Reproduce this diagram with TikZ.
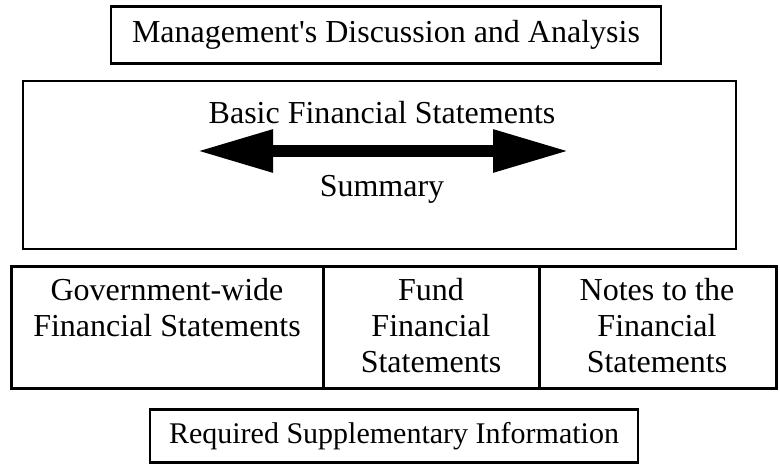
\documentclass[tikz,border=0pt]{standalone}
\usepackage{fontspec}
\setmainfont{Liberation Serif}
\usetikzlibrary{arrows.meta}
\begin{document}
\begin{tikzpicture}[x=0.5pt,y=-0.5pt,
        txt/.style={font=\fontsize{16}{18}\selectfont, inner sep=0pt, align=center},
        frame/.style={draw, line width=1.1pt, inner sep=0pt, txt}]
        \useasboundingbox (0,0) rectangle (780,464);
        % top and bottom boxes
        \node[frame, minimum width=275pt, minimum height=28.5pt] (mda) at (386,35) {Management\textquotesingle s Discussion and Analysis};
        \node[frame, minimum width=244pt, minimum height=26.5pt, font=\fontsize{15}{18}\selectfont] (rsi) at (394,436) {Required Supplementary Information};
        % basic financial statements
        \node[frame, minimum width=356.5pt, minimum height=84pt] (bfs) at (379.5,165) {};
        \node[txt, anchor=base] (basic) at (382,124) {Basic Financial Statements};
        \node[txt, anchor=base] (summ) at (382,197) {Summary};
        \coordinate (lt) at (197,151);
        \coordinate (rt) at (569,151);
        \draw[line width=6pt, {Triangle[length=38pt, width=20pt]}-{Triangle[length=38pt, width=20pt]}] (lt) -- (rt);
        % the three parts
        \draw[line width=1.5pt] (11,267) rectangle (776,388);
        \draw[line width=1.5pt] (323,267) -- (323,388);
        \draw[line width=1.5pt] (539,267) -- (539,388);
        \node[txt, anchor=base] (gw) at (167,336) {Government-wide\\Financial Statements};
        \node[txt, anchor=base] (fund) at (431,372) {Fund\\Financial\\Statements};
        \node[txt, anchor=base] (notes) at (657,372) {Notes to the\\Financial\\Statements};
    \end{tikzpicture}
\end{document}
